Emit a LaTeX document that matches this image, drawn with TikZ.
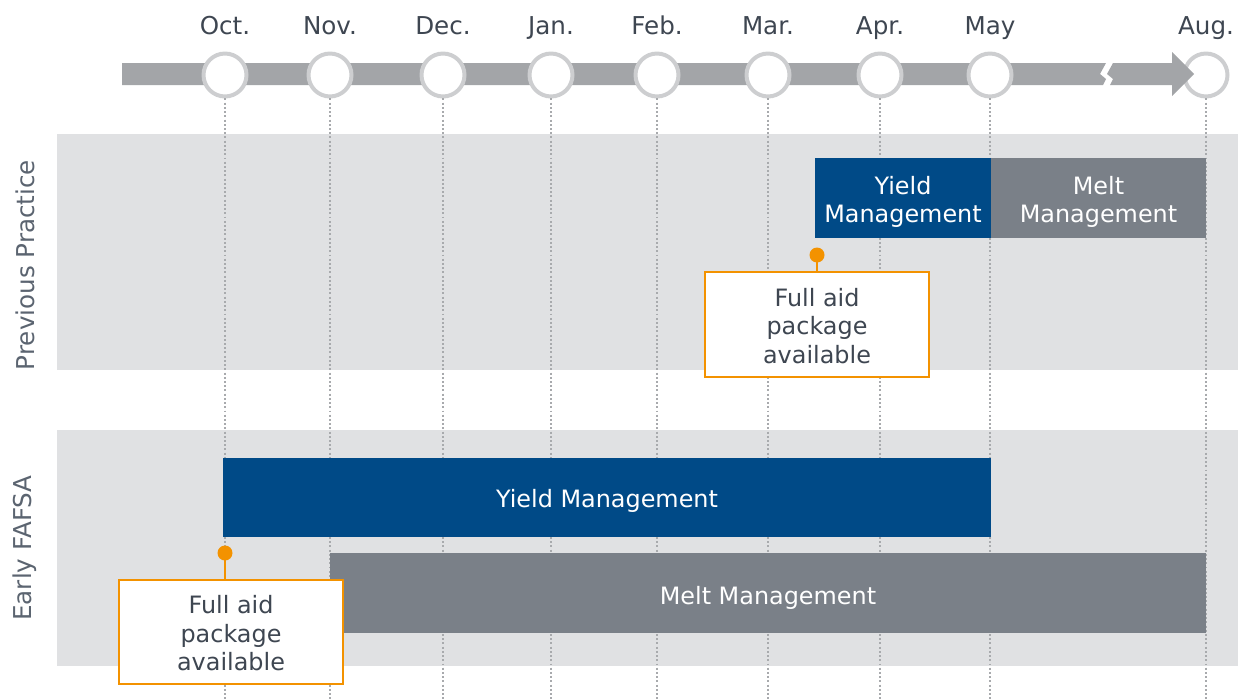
\documentclass[tikz,border=0pt]{standalone}
\usepackage{fontspec}
\setmainfont{DejaVu Sans}
\definecolor{bandgray}{HTML}{E0E1E3}
\definecolor{yieldblue}{HTML}{004A87}
\definecolor{meltgray}{HTML}{7A8088}
\definecolor{bargray}{HTML}{A3A5A8}
\definecolor{ringgray}{HTML}{CDCED0}
\definecolor{calloutorange}{HTML}{F39200}
\definecolor{labeltext}{HTML}{3E4651}
\definecolor{sidetext}{HTML}{5B6470}
\definecolor{guidegray}{HTML}{A8AAAD}
\begin{document}
\begin{tikzpicture}[x=0.02cm,y=-0.02cm,
  every node/.style={font=\fontsize{13.6}{16.2}\selectfont, inner sep=0pt},
  band/.style={fill=bandgray, minimum width=23.62cm, minimum height=4.72cm},
  yieldbox/.style={fill=yieldblue, minimum height=1.6cm},
  meltbox/.style={fill=meltgray, minimum height=1.6cm},
  boxtext/.style={text=white, align=center},
  callout/.style={draw=calloutorange, line width=1.45pt, fill=white,
    minimum width=4.48cm, minimum height=2.1cm},
  callouttext/.style={text=labeltext, align=center},
  pin/.style={circle, fill=calloutorange, minimum size=0.3cm},
  pinline/.style={draw=calloutorange, line width=1.45pt},
  monthdot/.style={circle, draw=ringgray, line width=2.27pt, fill=white, minimum size=0.86cm},
  monthlabel/.style={text=labeltext, anchor=base, font=\fontsize{14}{16.8}\selectfont},
  sidelabel/.style={text=sidetext, rotate=90, font=\fontsize{14}{16.8}\selectfont},
  guide/.style={draw=guidegray, line width=1.1pt, dash pattern=on 1.1pt off 1.3pt}
]
\useasboundingbox (0,0) rectangle (1238,700);

% background bands
\node[band] (bandprev) at (647.5,252) {};
\node[band] (bandearly) at (647.5,548) {};
\node[sidelabel] (lprev) at (25,265) {Previous Practice};
\node[sidelabel] (learly) at (25,548) {Early FAFSA};

% timeline bar up to the break
\fill[bargray] (122,63) -- (1106,63) -- (1100,74) -- (1106,79) -- (1103,85) -- (122,85) -- cycle;

% month markers
\foreach \name/\xx/\txt in {oct/225/Oct., nov/330/Nov., dec/443/Dec., jan/551/Jan.,
    feb/657/Feb., mar/768/Mar., apr/880/Apr., may/990/May, aug/1206/Aug.}{
  \node[monthdot] (m\name) at (\xx,75) {};
  \node[monthlabel] (t\name) at (\xx,34) {\txt};
  \coordinate (g\name) at (\xx,700);
  \draw[guide] (m\name.south) -- (g\name);
}

% arrow head after the break, overlapping the last marker
\fill[bargray] (1113,63) -- (1172,63) -- (1172,52) -- (1194,74) -- (1172,96) -- (1172,85)
  -- (1110,85) -- (1113,79) -- (1107,74) -- cycle;

% phases
\node[yieldbox, minimum width=3.52cm] (yprev) at (903,198) {};
\node[boxtext] (yprevtxt) at (903,202) {Yield\\Management};
\node[meltbox, minimum width=4.3cm] (mprev) at (1098.5,198) {};
\node[boxtext] (mprevtxt) at (1098.5,202) {Melt\\Management};
\node[yieldbox, minimum width=15.36cm, minimum height=1.58cm] (yearly) at (607,497.5) {};
\node[boxtext] (yearlytxt) at (607,500.5) {Yield Management};
\node[meltbox, minimum width=17.52cm] (mearly) at (768,593) {};
\node[boxtext] (mearlytxt) at (768,597.5) {Melt Management};

% aid availability callouts
\node[callout] (cprev) at (817,324.5) {};
\node[callouttext] (cprevtxt) at (817,326) {Full aid\\package\\available};
\node[pin] (pprev) at (817,255) {};
\draw[pinline] (pprev.center) -- (cprev.north);

\node[callout, minimum height=2.08cm] (cearly) at (231,632) {};
\node[callouttext] (cearlytxt) at (231,633.5) {Full aid\\package\\available};
\node[pin] (pearly) at (225,553) {};
\draw[pinline] (pearly.center) -- (pearly |- cearly.north);
\end{tikzpicture}
\end{document}
